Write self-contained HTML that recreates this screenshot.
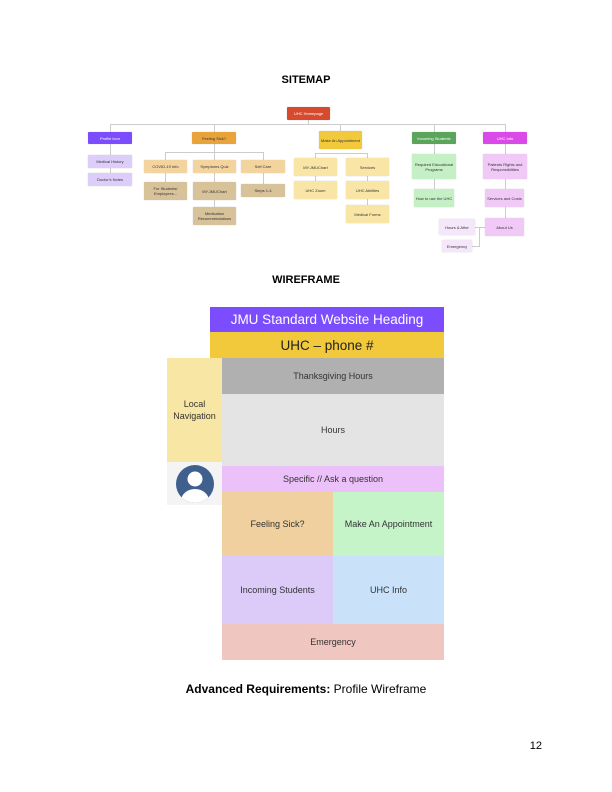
<!DOCTYPE html>
<html><head><meta charset="utf-8"><style>
body{margin:0;width:612px;height:792px;background:#fff;position:relative;font-family:"Liberation Sans",sans-serif;overflow:hidden}
.a{position:absolute;box-sizing:border-box;display:flex;align-items:center;justify-content:center;text-align:center}
.s{font-size:4px;line-height:5px;color:#333;border-radius:1px;box-shadow:0 0 1px rgba(0,0,0,.25)}
.w{font-size:9px;color:#333}
.l{position:absolute;background:#ccc}
</style></head><body>
<div class="a" style="left:0;width:612px;top:73px;height:14px;font-size:11px;font-weight:bold">SITEMAP</div>
<div>
<div class="l" style="left:110px;top:124px;width:396px;height:1px"></div>
<div class="l" style="left:308px;top:120px;width:1px;height:5px"></div>
<div class="l" style="left:110px;top:124px;width:1px;height:8px"></div>
<div class="l" style="left:214px;top:124px;width:1px;height:8px"></div>
<div class="l" style="left:340px;top:124px;width:1px;height:7px"></div>
<div class="l" style="left:434px;top:124px;width:1px;height:8px"></div>
<div class="l" style="left:505px;top:124px;width:1px;height:8px"></div>
<div class="l" style="left:110px;top:144px;width:1px;height:30px"></div>
<div class="l" style="left:165px;top:152px;width:98px;height:1px"></div>
<div class="l" style="left:165px;top:152px;width:1px;height:8px"></div>
<div class="l" style="left:214px;top:144px;width:1px;height:16px"></div>
<div class="l" style="left:263px;top:152px;width:1px;height:8px"></div>
<div class="l" style="left:165px;top:173px;width:1px;height:9px"></div>
<div class="l" style="left:214px;top:173px;width:1px;height:34px"></div>
<div class="l" style="left:263px;top:173px;width:1px;height:11px"></div>
<div class="l" style="left:315px;top:153px;width:52px;height:1px"></div>
<div class="l" style="left:315px;top:153px;width:1px;height:5px"></div>
<div class="l" style="left:367px;top:153px;width:1px;height:5px"></div>
<div class="l" style="left:315px;top:176px;width:1px;height:5px"></div>
<div class="l" style="left:367px;top:176px;width:1px;height:29px"></div>
<div class="l" style="left:434px;top:144px;width:1px;height:45px"></div>
<div class="l" style="left:505px;top:144px;width:1px;height:74px"></div>
<div class="l" style="left:475px;top:227px;width:10px;height:1px"></div>
<div class="l" style="left:479px;top:227px;width:1px;height:19px"></div>
<div class="l" style="left:472px;top:246px;width:8px;height:1px"></div>
<div class="a s" style="left:287px;top:107px;width:43px;height:13px;background:#d84a2e;color:#fff">UHC Homepage</div>
<div class="a s" style="left:88px;top:132px;width:44px;height:12px;background:#7c4dff;color:#fff">Profile Icon</div>
<div class="a s" style="left:192px;top:132px;width:44px;height:12px;background:#e8a33a">Feeling Sick?</div>
<div class="a s" style="left:319px;top:131px;width:43px;height:18px;background:#f1c93a">Make An Appointment</div>
<div class="a s" style="left:412px;top:132px;width:44px;height:12px;background:#5aa55a;color:#fff">Incoming Students</div>
<div class="a s" style="left:483px;top:132px;width:44px;height:12px;background:#d94ae8;color:#fff">UHC Info</div>
<div class="a s" style="left:88px;top:155px;width:44px;height:13px;background:#dccdfb">Medical History</div>
<div class="a s" style="left:88px;top:173px;width:44px;height:13px;background:#dccdfb">Doctor's Notes</div>
<div class="a s" style="left:144px;top:160px;width:43px;height:13px;background:#f3d49e">COVID-19 Info</div>
<div class="a s" style="left:193px;top:160px;width:43px;height:13px;background:#f3d49e">Symptoms Quiz</div>
<div class="a s" style="left:241px;top:160px;width:44px;height:13px;background:#f3d49e">Self Care</div>
<div class="a s" style="left:144px;top:182px;width:43px;height:18px;background:#d8c29a">For Students/ Employees...</div>
<div class="a s" style="left:193px;top:182px;width:43px;height:18px;background:#d8c29a">MY.JMUChart</div>
<div class="a s" style="left:241px;top:184px;width:44px;height:13px;background:#d8c29a">Steps 1-4</div>
<div class="a s" style="left:193px;top:207px;width:43px;height:18px;background:#d8c29a">Medication Recommendations</div>
<div class="a s" style="left:294px;top:158px;width:43px;height:18px;background:#f9e6a6">MY.JMUChart</div>
<div class="a s" style="left:346px;top:158px;width:43px;height:18px;background:#f9e6a6">Services</div>
<div class="a s" style="left:294px;top:181px;width:43px;height:18px;background:#f9e6a6">UHC Zoom</div>
<div class="a s" style="left:346px;top:181px;width:43px;height:18px;background:#f9e6a6">UHC Abilities</div>
<div class="a s" style="left:346px;top:205px;width:43px;height:18px;background:#f9e6a6">Medical Forms</div>
<div class="a s" style="left:412px;top:154px;width:44px;height:25px;background:#c5f0c5">Required Educational Programs</div>
<div class="a s" style="left:414px;top:189px;width:40px;height:18px;background:#c5f0c5">How to use the UHC</div>
<div class="a s" style="left:483px;top:154px;width:44px;height:25px;background:#f0c9f7">Patients Rights and Responsibilities</div>
<div class="a s" style="left:485px;top:189px;width:39px;height:18px;background:#f0c9f7">Services and Costs</div>
<div class="a s" style="left:485px;top:218px;width:39px;height:18px;background:#f0c9f7">About Us</div>
<div class="a s" style="left:439px;top:219px;width:36px;height:16px;background:#f5e7fa">Hours &amp; After</div>
<div class="a s" style="left:442px;top:240px;width:30px;height:12px;background:#f5e7fa">Emergency</div>
</div>
<div class="a" style="left:0;width:612px;top:273px;height:14px;font-size:11px;font-weight:bold">WIREFRAME</div>
<div>
<div class="a" style="left:210px;top:307px;width:234px;height:25px;background:#7c4dff;color:#fff;font-size:13.5px">JMU Standard Website Heading</div>
<div class="a" style="left:210px;top:332px;width:234px;height:26px;background:#f1c93a;color:#222;font-size:13.5px">UHC – phone #</div>
<div class="a w" style="left:167px;top:358px;width:55px;height:104px;background:#f8e6a4;line-height:12px">Local<br>Navigation</div>
<div class="a" style="left:167px;top:462px;width:55px;height:43px;background:#f4f4f4"><svg width="40" height="40" viewBox="0 0 40 40"><defs><clipPath id="c"><circle cx="20" cy="20" r="19"/></clipPath></defs><circle cx="20" cy="20" r="19" fill="#3f5f8c"/><g clip-path="url(#c)" fill="#fff"><circle cx="20" cy="15" r="7.5"/><ellipse cx="20" cy="37" rx="14" ry="12"/></g></svg></div>
<div class="a w" style="left:222px;top:358px;width:222px;height:36px;background:#b0b0b0">Thanksgiving Hours</div>
<div class="a w" style="left:222px;top:394px;width:222px;height:72px;background:#e4e4e4">Hours</div>
<div class="a w" style="left:222px;top:466px;width:222px;height:26px;background:#ecc0f8">Specific // Ask a question</div>
<div class="a w" style="left:222px;top:492px;width:111px;height:64px;background:#f0d09e">Feeling Sick?</div>
<div class="a w" style="left:333px;top:492px;width:111px;height:64px;background:#c5f4c8">Make An Appointment</div>
<div class="a w" style="left:222px;top:556px;width:111px;height:68px;background:#dccbf9">Incoming Students</div>
<div class="a w" style="left:333px;top:556px;width:111px;height:68px;background:#c9e2f9">UHC Info</div>
<div class="a w" style="left:222px;top:624px;width:222px;height:36px;background:#f0c6c0">Emergency</div>
</div>
<div class="a" style="left:0;width:612px;top:681px;height:16px;font-size:12px"><b>Advanced Requirements:</b>&nbsp;Profile Wireframe</div>
<div class="a" style="left:520px;top:739px;width:22px;height:14px;font-size:11px;justify-content:flex-end">12</div>
</body></html>
